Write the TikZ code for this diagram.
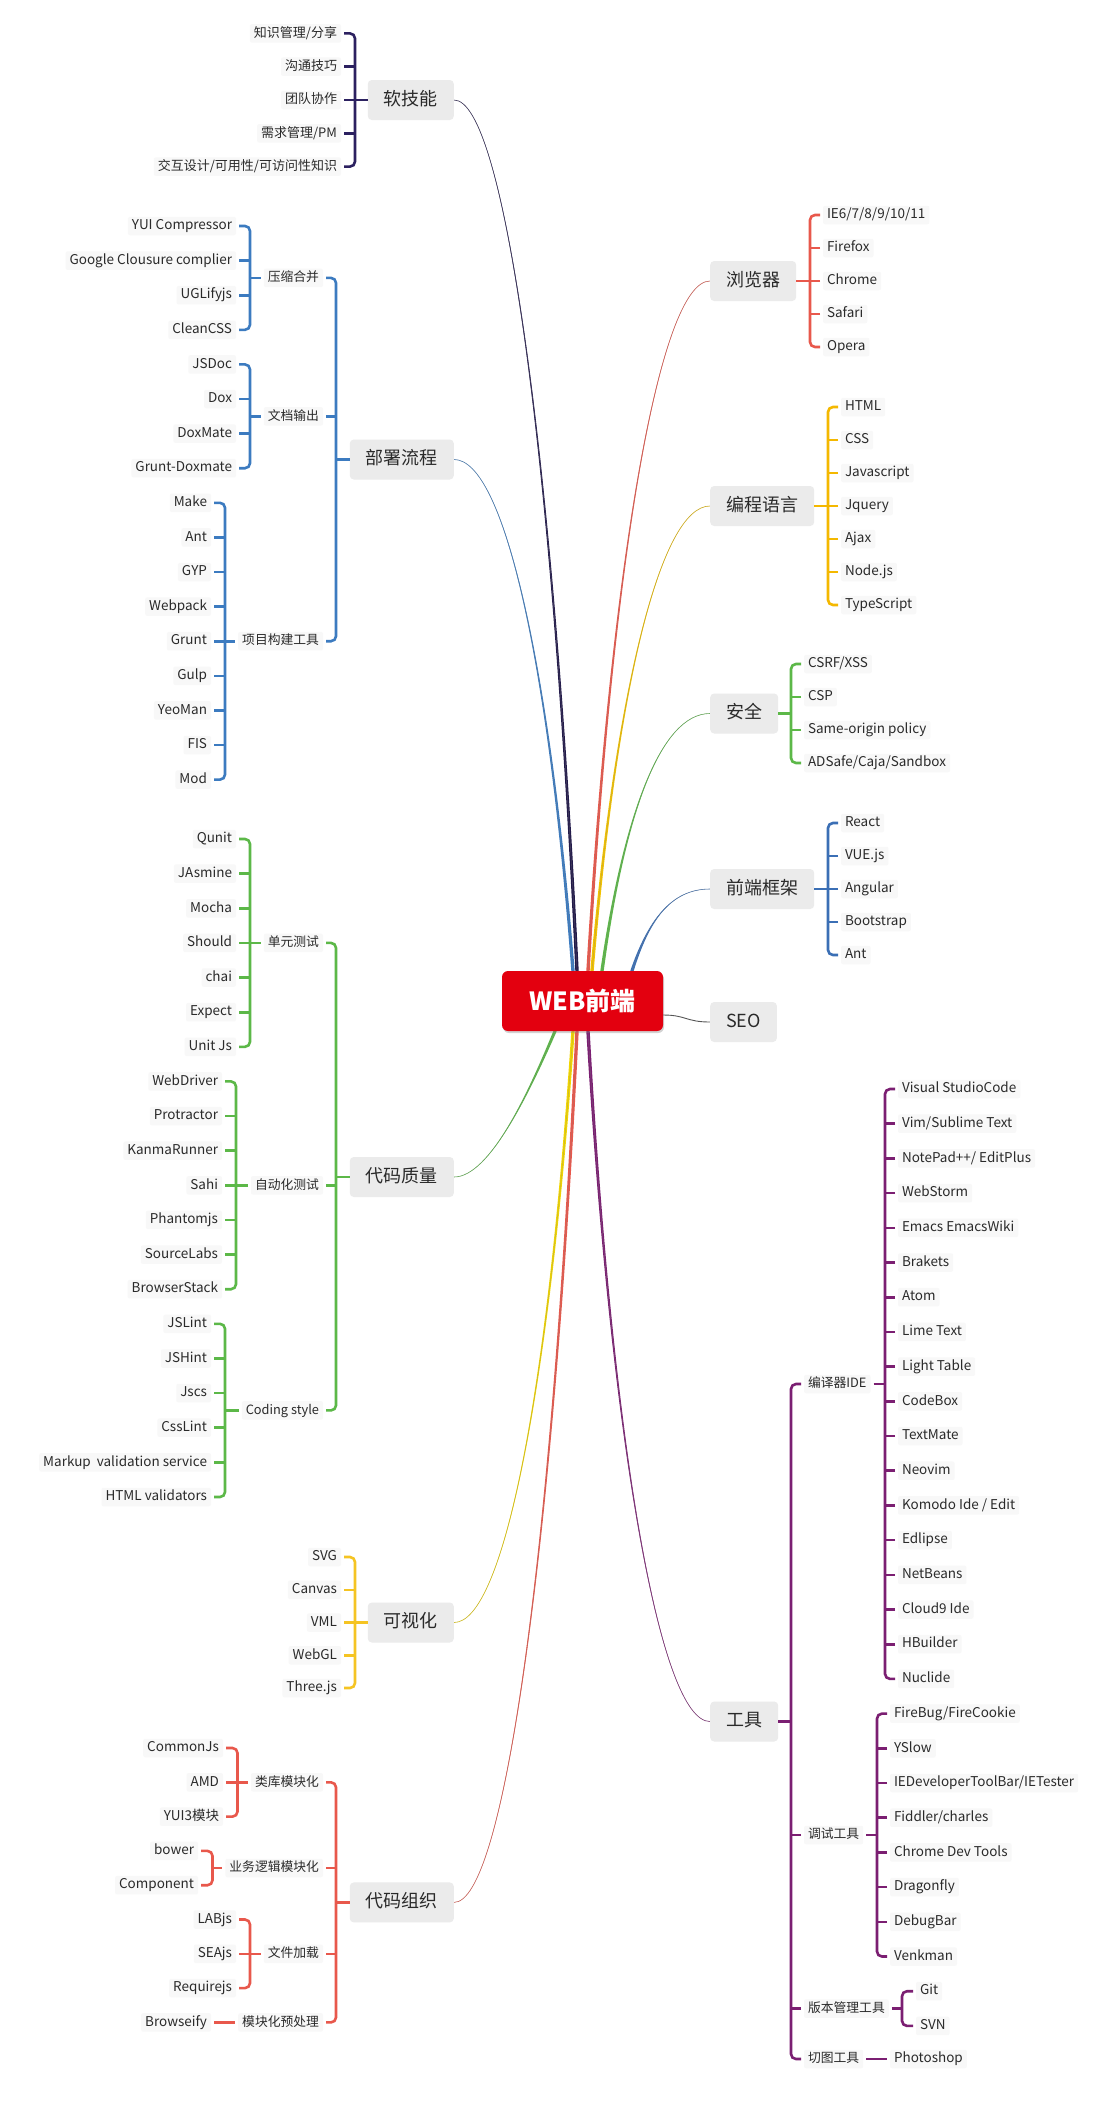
\documentclass[tikz,border=0pt]{standalone}
\usepackage{fontspec}
\setmainfont{Noto Sans CJK SC}
\usetikzlibrary{backgrounds,shadows,calc}
\pgfdeclarelayer{paper}
\pgfsetlayers{paper,background,main}
\definecolor{txt}{HTML}{2A2A2A}
\definecolor{leafbg}{HTML}{F8F8F8}
\definecolor{mainbg}{HTML}{EBEBEB}
\definecolor{rootred}{HTML}{E3000F}
\definecolor{navyC}{HTML}{221A4A}
\definecolor{navyB}{HTML}{2C2160}
\definecolor{blueB}{HTML}{3C7BC0}
\definecolor{greenB}{HTML}{5CB848}
\definecolor{yellowC}{HTML}{F2D600}
\definecolor{yellowB}{HTML}{F5C423}
\definecolor{redB}{HTML}{E8584C}
\definecolor{goldC}{HTML}{F3C300}
\definecolor{goldB}{HTML}{F4B800}
\definecolor{fwB}{HTML}{3B6FB5}
\definecolor{purB}{HTML}{7B1F72}
\definecolor{seoC}{HTML}{555555}
\newcommand\fsleaf{\fontsize{13.5}{16}\selectfont}
\newcommand\fscjk{\fontsize{13}{16}\selectfont}
\newcommand\fssub{\fontsize{12.8}{15}\selectfont}
\newcommand\fsmain{\fontsize{18}{21}\selectfont}
\newcommand\fsroot{\fontsize{25}{28}\selectfont\bfseries}
\tikzset{
  lf/.style={anchor=east, font=\fsleaf, fill=leafbg, rounded corners=2, inner xsep=4, inner ysep=2.5, outer xsep=3, text=txt, text height=10.5, text depth=3},
  rf/.style={lf, anchor=west},
  lfc/.style={lf, font=\fscjk},
  sbL/.style={anchor=east, font=\fssub, fill=leafbg, rounded corners=2, inner xsep=4, inner ysep=2.5, outer xsep=3, text=txt, text height=10.5, text depth=3},
  sbR/.style={sbL, anchor=west},
  mainL/.style={anchor=east, font=\fsmain, fill=mainbg, rounded corners=4, inner xsep=16, minimum height=40, text=txt, text height=14, text depth=4},
  mainR/.style={mainL, anchor=west},
  rootnode/.style={fill=rootred, rounded corners=6, minimum width=161, minimum height=60, text=white, font=\fsroot, drop shadow={opacity=0.35, shadow xshift=1pt, shadow yshift=-2pt}},
  brk/.style={draw=#1, line width=2.6, rounded corners=5},
  tck/.style={draw=#1, line width=2.6},
}
\newcommand\Lbrk[4]{\draw[brk=#1] (#3.east) -- (#3.east -| #2) -- (#4.east -| #2) -- (#4.east);}
\newcommand\Rbrk[4]{\draw[brk=#1] (#3.west) -- (#3.west -| #2) -- (#4.west -| #2) -- (#4.west);}
\newcommand\Lticks[3]{\foreach \nn in {#3} {\draw[tck=#1] (\nn.east) -- (\nn.east -| #2);}}
\newcommand\Rticks[3]{\foreach \nn in {#3} {\draw[tck=#1] (\nn.west) -- (\nn.west -| #2);}}
\newcommand\Lpar[3]{\draw[tck=#1] (#3.west -| #2) -- (#3.west);}
\newcommand\Rpar[3]{\draw[tck=#1] (#3.east) -- (#3.east -| #2);}
\newcommand\branch[5]{%
  \fill[#1] ($(#2)+(-1.7,0)$) .. controls ($(#3)+(-0.8,0)$) and (#4) .. (#5) .. controls (#4) and ($(#3)+(0.8,0)$) .. ($(#2)+(1.7,0)$) -- cycle;
  \draw[#1!65!gray, line width=0.6] (#2) .. controls (#3) and (#4) .. (#5);}
\begin{document}
\begin{tikzpicture}[x=1pt,y=-1pt]
\begin{pgfonlayer}{paper}
\fill[white] (0,0) rectangle (1114,2113);
\end{pgfonlayer}
\useasboundingbox (0,0) rectangle (1114,2113);

% ---------- root ----------
\node[rootnode] (root) at (582.5,1001) {WEB前端};

% ---------- soft skills ----------
\node[mainL] (ss) at (454,100) {软技能};
\coordinate (bss) at (355,0);
\node[lfc] (s1) at (344,33.4) {知识管理/分享};
\node[lfc] (s2) at (344,66.7) {沟通技巧};
\node[lfc] (s3) at (344,100) {团队协作};
\node[lfc] (s4) at (344,133.3) {需求管理/PM};
\node[lfc] (s5) at (344,166.6) {交互设计/可用性/可访问性知识};
\Lbrk{navyB}{bss}{s1}{s5}
\Lticks{navyB}{bss}{s2,s3,s4}
\Lpar{navyB}{bss}{ss}

% ---------- deploy ----------
\node[mainL] (dp) at (454,459.5) {部署流程};
\coordinate (bdp) at (336,0);
\node[sbL] (d1) at (326,277.9) {压缩合并};
\node[sbL] (d2) at (326,416.3) {文档输出};
\node[sbL] (d3) at (326,641.2) {项目构建工具};
\Lbrk{blueB}{bdp}{d1}{d3}
\Lticks{blueB}{bdp}{d2}
\Lpar{blueB}{bdp}{dp}
\coordinate (bd1) at (250,0);
\node[lf] (a1) at (239,226.0) {YUI Compressor};
\node[lf] (a2) at (239,260.6) {Google Clousure complier};
\node[lf] (a3) at (239,295.2) {UGLifyjs};
\node[lf] (a4) at (239,329.8) {CleanCSS};
\Lbrk{blueB}{bd1}{a1}{a4}
\Lticks{blueB}{bd1}{a2,a3}
\Lpar{blueB}{bd1}{d1}
\coordinate (bd2) at (250,0);
\node[lf] (a5) at (239,364.4) {JSDoc};
\node[lf] (a6) at (239,399.0) {Dox};
\node[lf] (a7) at (239,433.6) {DoxMate};
\node[lf] (a8) at (239,468.2) {Grunt-Doxmate};
\Lbrk{blueB}{bd2}{a5}{a8}
\Lticks{blueB}{bd2}{a6,a7}
\Lpar{blueB}{bd2}{d2}
\coordinate (bd3) at (225,0);
\node[lf] (a9) at (214,502.8) {Make};
\node[lf] (a10) at (214,537.4) {Ant};
\node[lf] (a11) at (214,572.0) {GYP};
\node[lf] (a12) at (214,606.6) {Webpack};
\node[lf] (a13) at (214,641.2) {Grunt};
\node[lf] (a14) at (214,675.8) {Gulp};
\node[lf] (a15) at (214,710.4) {YeoMan};
\node[lf] (a16) at (214,745.0) {FIS};
\node[lf] (a17) at (214,779.6) {Mod};
\Lbrk{blueB}{bd3}{a9}{a17}
\Lticks{blueB}{bd3}{a10,a11,a12,a13,a14,a15,a16}
\Lpar{blueB}{bd3}{d3}

% ---------- code quality ----------
\node[mainL] (cq) at (454,1177) {代码质量};
\coordinate (bcq) at (336,0);
\node[sbL] (q1) at (326,942.9) {单元测试};
\node[sbL] (q2) at (326,1185.3) {自动化测试};
\node[sbL] (q3) at (326,1410.4) {Coding style};
\Lbrk{greenB}{bcq}{q1}{q3}
\Lticks{greenB}{bcq}{q2}
\Lpar{greenB}{bcq}{cq}
\coordinate (bq1) at (250,0);
\node[lf] (u1) at (239,839.0) {Qunit};
\node[lf] (u2) at (239,873.6) {JAsmine};
\node[lf] (u3) at (239,908.3) {Mocha};
\node[lf] (u4) at (239,942.9) {Should};
\node[lf] (u5) at (239,977.5) {chai};
\node[lf] (u6) at (239,1012.2) {Expect};
\node[lf] (u7) at (239,1046.8) {Unit Js};
\Lbrk{greenB}{bq1}{u1}{u7}
\Lticks{greenB}{bq1}{u2,u3,u4,u5,u6}
\Lpar{greenB}{bq1}{q1}
\coordinate (bq2) at (236,0);
\node[lf] (w1) at (225,1081.4) {WebDriver};
\node[lf] (w2) at (225,1116.0) {Protractor};
\node[lf] (w3) at (225,1150.7) {KanmaRunner};
\node[lf] (w4) at (225,1185.3) {Sahi};
\node[lf] (w5) at (225,1219.9) {Phantomjs};
\node[lf] (w6) at (225,1254.6) {SourceLabs};
\node[lf] (w7) at (225,1289.2) {BrowserStack};
\Lbrk{greenB}{bq2}{w1}{w7}
\Lticks{greenB}{bq2}{w2,w3,w4,w5,w6}
\Lpar{greenB}{bq2}{q2}
\coordinate (bq3) at (225,0);
\node[lf] (y1) at (214,1323.8) {JSLint};
\node[lf] (y2) at (214,1358.5) {JSHint};
\node[lf] (y3) at (214,1393.1) {Jscs};
\node[lf] (y4) at (214,1427.7) {CssLint};
\node[lf] (y5) at (214,1462.3) {Markup~ validation service};
\node[lf] (y6) at (214,1497.0) {HTML validators};
\Lbrk{greenB}{bq3}{y1}{y6}
\Lticks{greenB}{bq3}{y2,y3,y4,y5}
\Lpar{greenB}{bq3}{q3}

% ---------- visualisation ----------
\node[mainL] (vz) at (454,1622.5) {可视化};
\coordinate (bvz) at (355,0);
\node[lf] (v1) at (344,1557.0) {SVG};
\node[lf] (v2) at (344,1589.8) {Canvas};
\node[lf] (v3) at (344,1622.5) {VML};
\node[lf] (v4) at (344,1655.3) {WebGL};
\node[lf] (v5) at (344,1688.0) {Three.js};
\Lbrk{yellowB}{bvz}{v1}{v5}
\Lticks{yellowB}{bvz}{v2,v3,v4}
\Lpar{yellowB}{bvz}{vz}

% ---------- code organisation ----------
\node[mainL] (co) at (454,1902.4) {代码组织};
\coordinate (bco) at (336,0);
\node[sbL] (o1) at (326,1782.3) {类库模块化};
\node[sbL] (o2) at (326,1868.0) {业务逻辑模块化};
\node[sbL] (o3) at (326,1953.8) {文件加载};
\node[sbL] (o4) at (326,2022.4) {模块化预处理};
\Lbrk{redB}{bco}{o1}{o4}
\Lticks{redB}{bco}{o2,o3}
\Lpar{redB}{bco}{co}
\coordinate (bo1) at (237.5,0);
\node[lf] (m1) at (226,1748.0) {CommonJs};
\node[lf] (m2) at (226,1782.3) {AMD};
\node[lf] (m3) at (226,1816.6) {YUI3模块};
\Lbrk{redB}{bo1}{m1}{m3}
\Lticks{redB}{bo1}{m2}
\Lpar{redB}{bo1}{o1}
\coordinate (bo2) at (212.5,0);
\node[lf] (m4) at (201,1850.9) {bower};
\node[lf] (m5) at (201,1885.2) {Component};
\Lbrk{redB}{bo2}{m4}{m5}
\Lpar{redB}{bo2}{o2}
\coordinate (bo3) at (250,0);
\node[lf] (m6) at (239,1919.5) {LABjs};
\node[lf] (m7) at (239,1953.8) {SEAjs};
\node[lf] (m8) at (239,1988.1) {Requirejs};
\Lbrk{redB}{bo3}{m6}{m8}
\Lticks{redB}{bo3}{m7}
\Lpar{redB}{bo3}{o3}
\node[lf] (m9) at (214,2022.4) {Browseify};
\draw[tck=redB] (m9.east) -- (o4.west);

% ---------- browser ----------
\node[mainR] (bw) at (710,281) {浏览器};
\coordinate (bbw) at (810,0);
\node[rf] (b1) at (820,215) {IE6/7/8/9/10/11};
\node[rf] (b2) at (820,248) {Firefox};
\node[rf] (b3) at (820,281) {Chrome};
\node[rf] (b4) at (820,314) {Safari};
\node[rf] (b5) at (820,347) {Opera};
\Rbrk{redB}{bbw}{b1}{b5}
\Rticks{redB}{bbw}{b2,b3,b4}
\Rpar{redB}{bbw}{bw}

% ---------- languages ----------
\node[mainR] (lg) at (710,506) {编程语言};
\coordinate (blg) at (828,0);
\node[rf] (l1) at (838,407) {HTML};
\node[rf] (l2) at (838,440) {CSS};
\node[rf] (l3) at (838,473) {Javascript};
\node[rf] (l4) at (838,506) {Jquery};
\node[rf] (l5) at (838,539) {Ajax};
\node[rf] (l6) at (838,572) {Node.js};
\node[rf] (l7) at (838,605) {TypeScript};
\Rbrk{goldB}{blg}{l1}{l7}
\Rticks{goldB}{blg}{l2,l3,l4,l5,l6}
\Rpar{goldB}{blg}{lg}

% ---------- security ----------
\node[mainR] (sc) at (710,713.5) {安全};
\coordinate (bsc) at (791,0);
\node[rf] (c1) at (801,664) {CSRF/XSS};
\node[rf] (c2) at (801,697) {CSP};
\node[rf] (c3) at (801,730) {Same-origin policy};
\node[rf] (c4) at (801,763) {ADSafe/Caja/Sandbox};
\Rbrk{greenB}{bsc}{c1}{c4}
\Rticks{greenB}{bsc}{c2,c3}
\Rpar{greenB}{bsc}{sc}

% ---------- frameworks ----------
\node[mainR] (fw) at (710,889) {前端框架};
\coordinate (bfw) at (828,0);
\node[rf] (f1) at (838,823) {React};
\node[rf] (f2) at (838,856) {VUE.js};
\node[rf] (f3) at (838,889) {Angular};
\node[rf] (f4) at (838,922) {Bootstrap};
\node[rf] (f5) at (838,955) {Ant};
\Rbrk{fwB}{bfw}{f1}{f5}
\Rticks{fwB}{bfw}{f2,f3,f4}
\Rpar{fwB}{bfw}{fw}

% ---------- SEO ----------
\node[mainR] (seo) at (710,1022) {SEO};

% ---------- tools ----------
\node[mainR] (tl) at (710,1721.5) {工具};
\coordinate (btl) at (791,0);
\node[sbR] (t1) at (801,1384.0) {编译器IDE};
\node[sbR] (t2) at (801,1835.0) {调试工具};
\node[sbR] (t3) at (801,2008.6) {版本管理工具};
\node[sbR] (t4) at (801,2059.0) {切图工具};
\Rbrk{purB}{btl}{t1}{t4}
\Rticks{purB}{btl}{t2,t3}
\Rpar{purB}{btl}{tl}
\coordinate (bt1) at (885,0);
\node[rf] (e1) at (895,1089.0) {Visual StudioCode};
\node[rf] (e2) at (895,1123.7) {Vim/Sublime Text};
\node[rf] (e3) at (895,1158.4) {NotePad++/ EditPlus};
\node[rf] (e4) at (895,1193.1) {WebStorm};
\node[rf] (e5) at (895,1227.8) {Emacs EmacsWiki};
\node[rf] (e6) at (895,1262.5) {Brakets};
\node[rf] (e7) at (895,1297.2) {Atom};
\node[rf] (e8) at (895,1331.9) {Lime Text};
\node[rf] (e9) at (895,1366.6) {Light Table};
\node[rf] (e10) at (895,1401.3) {CodeBox};
\node[rf] (e11) at (895,1436.0) {TextMate};
\node[rf] (e12) at (895,1470.7) {Neovim};
\node[rf] (e13) at (895,1505.4) {Komodo Ide / Edit};
\node[rf] (e14) at (895,1540.1) {Edlipse};
\node[rf] (e15) at (895,1574.8) {NetBeans};
\node[rf] (e16) at (895,1609.5) {Cloud9 Ide};
\node[rf] (e17) at (895,1644.2) {HBuilder};
\node[rf] (e18) at (895,1678.9) {Nuclide};
\Rbrk{purB}{bt1}{e1}{e18}
\Rticks{purB}{bt1}{e2,e3,e4,e5,e6,e7,e8,e9,e10,e11,e12,e13,e14,e15,e16,e17}
\Rpar{purB}{bt1}{t1}
\coordinate (bt2) at (877,0);
\node[rf] (g1) at (887,1713.6) {FireBug/FireCookie};
\node[rf] (g2) at (887,1748.3) {YSlow};
\node[rf] (g3) at (887,1783.0) {IEDeveloperToolBar/IETester};
\node[rf] (g4) at (887,1817.7) {Fiddler/charles};
\node[rf] (g5) at (887,1852.4) {Chrome Dev Tools};
\node[rf] (g6) at (887,1887.1) {Dragonfly};
\node[rf] (g7) at (887,1921.8) {DebugBar};
\node[rf] (g8) at (887,1956.5) {Venkman};
\Rbrk{purB}{bt2}{g1}{g8}
\Rticks{purB}{bt2}{g2,g3,g4,g5,g6,g7}
\Rpar{purB}{bt2}{t2}
\coordinate (bt3) at (902,0);
\node[rf] (h1) at (913,1991.2) {Git};
\node[rf] (h2) at (913,2025.9) {SVN};
\Rbrk{purB}{bt3}{h1}{h2}
\Rpar{purB}{bt3}{t3}
\node[rf] (ps) at (887,2059.0) {Photoshop};
\draw[tck=purB] (t4.east) -- (ps.west);

% ---------- curves from root ----------
\coordinate (qss) at ([xshift=-5.5pt]root.north);
\coordinate (qdp) at ([xshift=-9.5pt]root.north);
\coordinate (qbw) at ([xshift=5.5pt]root.north);
\coordinate (qlg) at ([xshift=9.5pt]root.north);
\coordinate (qsc) at ([xshift=19.5pt]root.north);
\coordinate (qfw) at ([xshift=49.5pt]root.north);
\coordinate (qcq) at ([xshift=-27.5pt]root.south);
\coordinate (qvz) at ([xshift=-9.5pt]root.south);
\coordinate (qco) at ([xshift=-5.5pt]root.south);
\coordinate (qtl) at ([xshift=5.5pt]root.south);
\coordinate (qseo) at ([yshift=-14pt]root.east);
\begin{pgfonlayer}{background}
\branch{navyC}{qss}{552,448}{504,100}{ss.east}
\branch{blueB}{qdp}{549,664}{504,459.5}{dp.east}
\branch{greenB}{qcq}{530,1090}{490,1177}{cq.east}
\branch{yellowC}{qvz}{549,1386}{504,1622.5}{vz.east}
\branch{redB}{qco}{552,1554}{504,1902.4}{co.east}
\branch{redB}{qbw}{612,557}{660,281}{bw.west}
\branch{goldC}{qlg}{616,692}{660,506}{lg.west}
\branch{greenB}{qsc}{624,816}{660,713.5}{sc.west}
\branch{fwB}{qfw}{648,922}{670,889}{fw.west}
\branch{purB}{qtl}{612,1446}{660,1721.5}{tl.west}
\draw[seoC, line width=0.9] (qseo) .. controls (686,1015) and (686,1022) .. (seo.west);
\end{pgfonlayer}
\end{tikzpicture}
\end{document}
